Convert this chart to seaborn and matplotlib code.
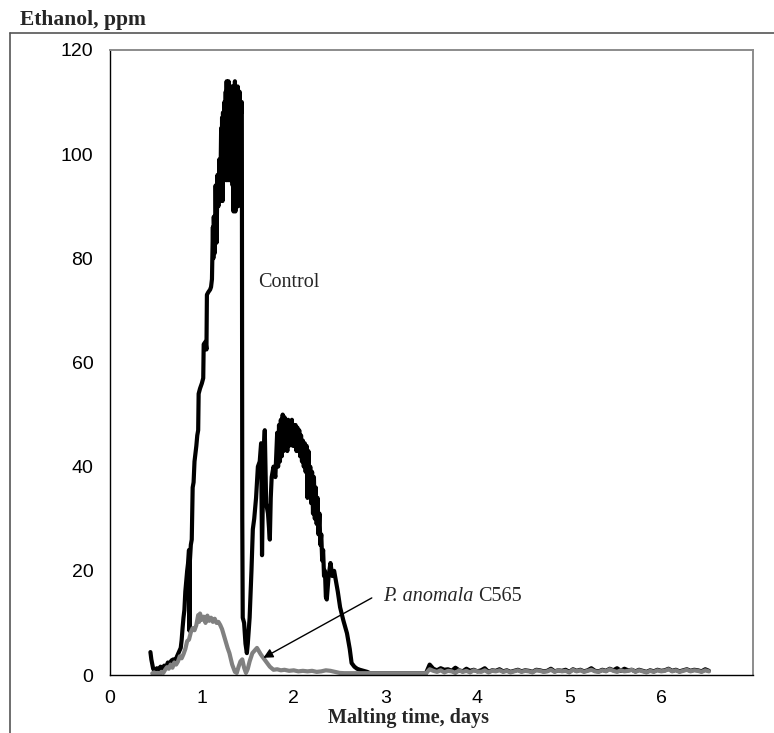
import numpy as np
import pandas as pd
import matplotlib
matplotlib.use("Agg")
import matplotlib.pyplot as plt
from matplotlib.lines import Line2D
import seaborn as sns

# Control malting: time (days) and ethanol (ppm) through germination
control_days = [
    0.44, 0.45, 0.47, 0.49, 0.51, 0.53, 0.55, 0.57, 0.59, 0.61, 0.63, 0.65, 0.67, 0.69,
    0.71, 0.73, 0.75, 0.77, 0.78, 0.79, 0.80, 0.81, 0.82, 0.83, 0.84, 0.85, 0.86, 0.865,
    0.87, 0.88, 0.89, 0.90, 0.91, 0.92, 0.93, 0.94, 0.95, 0.96, 0.965, 0.98, 1.00, 1.015,
    1.02, 1.04, 1.05, 1.055, 1.07, 1.09, 1.10, 1.11, 1.12, 1.125, 1.13, 1.14, 1.15, 1.16,
    1.17, 1.18, 1.19, 1.20, 1.21, 1.215, 1.22, 1.225, 1.23, 1.24, 1.245, 1.25, 1.26, 1.265,
    1.27, 1.275, 1.28, 1.285, 1.29, 1.295, 1.30, 1.305, 1.31, 1.315, 1.32, 1.325, 1.33,
    1.335, 1.34, 1.345, 1.35, 1.355, 1.36, 1.365, 1.37, 1.375, 1.38, 1.385, 1.39, 1.395,
    1.40, 1.405, 1.41, 1.415, 1.42, 1.43, 1.435, 1.44, 1.445, 1.46, 1.475, 1.49, 1.50,
    1.52, 1.54, 1.555, 1.57, 1.59, 1.61, 1.63, 1.645, 1.655, 1.67, 1.685, 1.70, 1.72,
    1.74, 1.75, 1.76, 1.78, 1.80, 1.82, 1.83, 1.84, 1.85, 1.86, 1.87, 1.88, 1.89, 1.90,
    1.91, 1.92, 1.93, 1.94, 1.95, 1.96, 1.97, 1.98, 1.99, 2.00, 2.01, 2.02, 2.03, 2.04,
    2.05, 2.06, 2.07, 2.08, 2.09, 2.10, 2.11, 2.12, 2.13, 2.14, 2.15, 2.16, 2.17, 2.18,
    2.19, 2.20, 2.21, 2.22, 2.23, 2.24, 2.25, 2.26, 2.27, 2.28, 2.29, 2.30, 2.31, 2.32,
    2.33, 2.34, 2.35, 2.36, 2.38, 2.40, 2.42, 2.44, 2.46, 2.48, 2.505, 2.54, 2.58, 2.61,
    2.63, 2.66, 2.69, 2.72, 2.76, 2.80, 2.83, 3.40,
]
control_ppm = [
    4.4, 3.0, 1.2, 0.7, 1.3, 1.0, 1.6, 1.2, 1.8, 1.5, 2.4, 2.2, 2.8, 3.0,
    2.7, 3.6, 4.4, 5.2, 6.7, 9.0, 11.0, 12.5, 16.0, 18.0, 20.0, 21.5, 24.0, 8.5,
    22.0, 25.0, 26.0, 36.0, 37.0, 41.0, 42.5, 44.0, 46.0, 47.0, 54.0, 55.0, 56.0, 57.0,
    63.5, 64.0, 62.5, 73.0, 73.5, 74.0, 74.5, 76.0, 86.0, 80.0, 88.0, 81.0, 94.0, 83.0,
    96.0, 90.0, 99.0, 91.0, 105.0, 92.0, 107.0, 91.0, 108.0, 95.0, 110.0, 96.0, 112.0, 95.0,
    114.0, 96.0, 113.0, 95.0, 114.0, 96.0, 113.0, 95.0, 112.0, 96.0, 113.0, 95.0, 111.0,
    94.0, 113.0, 89.0, 112.0, 90.0, 114.0, 89.0, 113.0, 90.0, 112.0, 91.0, 113.0, 90.0,
    111.0, 92.0, 112.0, 97.0, 110.0, 108.0, 110.0, 30.0, 11.0, 10.0, 6.0, 4.2, 6.0,
    11.0, 20.0, 28.0, 30.0, 34.0, 40.0, 41.0, 44.5, 23.0, 42.0, 47.0, 33.0, 31.0,
    26.0, 34.0, 38.0, 40.0, 38.0, 46.5, 40.0, 48.0, 41.0, 49.0, 42.0, 50.0, 43.0, 49.5,
    44.0, 49.0, 43.0, 49.0, 44.0, 48.5, 45.0, 49.0, 44.0, 48.0, 44.0, 48.0, 43.0, 47.5,
    43.0, 47.0, 42.0, 46.0, 41.0, 45.0, 40.0, 44.5, 39.0, 44.0, 34.0, 43.0, 36.0, 40.0,
    33.0, 39.0, 31.0, 38.0, 30.0, 36.0, 29.0, 34.0, 27.0, 31.0, 25.0, 27.0, 22.0, 24.0,
    19.0, 20.0, 15.0, 14.5, 19.0, 21.5, 19.0, 20.0, 18.0, 16.0, 13.0, 10.5, 8.0, 5.0,
    2.3, 1.6, 1.2, 1.0, 0.8, 0.6, 0.35, 0.35,
]

# Malting inoculated with P. anomala C565
anomala_days = [
    0.46, 0.48, 0.50, 0.52, 0.54, 0.56, 0.58, 0.60, 0.62, 0.64, 0.66, 0.68, 0.70, 0.72,
    0.74, 0.76, 0.78, 0.80, 0.82, 0.84, 0.86, 0.88, 0.90, 0.92, 0.94, 0.96, 0.97, 0.98,
    1.00, 1.02, 1.04, 1.06, 1.08, 1.10, 1.12, 1.14, 1.16, 1.18, 1.20, 1.22, 1.24, 1.26,
    1.28, 1.30, 1.33, 1.36, 1.38, 1.40, 1.42, 1.44, 1.46, 1.48, 1.50, 1.52, 1.55, 1.57,
    1.60, 1.62, 1.64, 1.66, 1.69, 1.71, 1.74, 1.78, 1.82, 1.86, 1.90, 1.95, 2.00, 2.05,
    2.10, 2.15, 2.20, 2.25, 2.30, 2.35, 2.40, 2.45, 2.50, 2.55, 3.40,
]
anomala_ppm = [
    0.3, 0.5, 0.2, 0.4, 0.2, 0.6, 0.4, 1.0, 1.5, 1.2, 2.0, 1.4, 2.4, 2.0,
    2.6, 3.6, 3.2, 4.0, 5.0, 6.5, 6.8, 8.2, 9.0, 8.6, 9.6, 11.5, 10.2, 11.8,
    10.6, 11.2, 10.0, 11.4, 10.4, 11.0, 10.2, 10.8, 10.0, 10.2, 9.6, 8.8, 7.6, 6.4,
    5.2, 4.2, 2.0, 0.6, 0.4, 1.6, 2.6, 3.0, 1.4, 0.4, 1.2, 2.6, 4.2, 4.6,
    5.2, 4.6, 4.0, 3.5, 2.8, 2.3, 1.6, 1.0, 1.1, 0.9, 1.0, 0.8, 0.9, 0.7,
    0.8, 0.7, 0.8, 0.6, 0.7, 0.9, 0.8, 0.6, 0.4, 0.35, 0.35,
]

# Late-stage readings (days 3.44 - 6.52), logged at a fixed interval
late_start, late_end = 3.44, 6.52
control_late_ppm = [
    0.35, 2.0, 1.2, 0.9, 1.3, 1.0, 1.1, 0.8, 1.4, 0.9, 0.7, 1.2, 0.8, 1.0, 0.7, 0.9,
    1.3, 0.6, 0.9, 0.8, 1.1, 0.7, 0.9, 0.6, 0.8, 1.0, 0.7, 0.9, 0.8, 0.6, 1.0, 0.9,
    0.7, 0.8, 1.2, 0.7, 0.9, 0.8, 1.0, 0.6, 1.1, 0.8, 1.0, 0.7, 0.9, 1.3, 0.8, 0.7,
    1.0, 0.8, 1.2, 0.9, 1.3, 0.8, 1.2, 0.9, 1.0, 0.7, 1.0, 0.8, 0.6, 0.9, 0.7, 1.0,
    0.8, 0.9, 1.2, 0.8, 1.0, 0.7, 0.9, 1.1, 0.8, 1.0, 0.9, 0.7, 1.1, 0.8,
]
anomala_late_ppm = [
    0.35, 1.1, 0.8, 0.6, 0.9, 0.5, 0.8, 0.7, 0.4, 0.9, 0.6, 0.8, 0.5, 0.9, 0.7, 0.6,
    0.9, 0.5, 0.8, 0.7, 0.9, 0.6, 0.8, 0.5, 0.7, 0.9, 0.6, 0.8, 0.7, 0.5, 0.9, 0.8,
    0.6, 0.7, 1.0, 0.6, 0.9, 0.7, 0.8, 0.5, 1.0, 0.7, 0.9, 0.6, 0.8, 1.0, 0.7, 0.6,
    0.9, 0.7, 1.1, 0.8, 0.6, 0.9, 0.7, 0.8, 1.0, 0.6, 0.9, 0.7, 0.5, 0.8, 0.6, 0.9,
    0.7, 0.8, 1.1, 0.7, 0.9, 0.6, 0.8, 1.0, 0.7, 0.9, 0.8, 0.6, 0.9, 0.7,
]

series_names = ["Control", "P. anomala C565"]
series_colors = {"Control": "black", "P. anomala C565": "#808080"}

x_ticks = [0, 1, 2, 3, 4, 5, 6, 7]
x_tick_labels = ["0", "1", "2", "3", "4", "5", "6", ""]
y_ticks = [0, 20, 40, 60, 80, 100, 120]

# ---- assemble long-form table ----
ctrl_late_days = np.linspace(late_start, late_end, len(control_late_ppm))
anom_late_days = np.linspace(late_start, late_end, len(anomala_late_ppm))

df = pd.concat([
    pd.DataFrame({"days": np.concatenate([control_days, ctrl_late_days]),
                  "ppm": np.concatenate([control_ppm, control_late_ppm]),
                  "series": series_names[0]}),
    pd.DataFrame({"days": np.concatenate([anomala_days, anom_late_days]),
                  "ppm": np.concatenate([anomala_ppm, anomala_late_ppm]),
                  "series": series_names[1]}),
], ignore_index=True)

sns.set_style("white")
serif = ["Liberation Serif", "DejaVu Serif"]
sans = ["Liberation Sans", "DejaVu Sans"]
plt.rcParams["font.family"] = sans

W, H = 774, 733
fig = plt.figure(figsize=(W / 100, H / 100), dpi=100)
ax = fig.add_axes([110 / W, 1 - 675 / H, (753 - 110) / W, (675 - 50) / H])

sns.lineplot(data=df, x="days", y="ppm", hue="series", hue_order=series_names,
             palette=series_colors, estimator=None, sort=False, legend=False,
             linewidth=3.0, solid_joinstyle="round", solid_capstyle="round", ax=ax)

ax.set_xlim(0, 7)
ax.set_ylim(0, 120)
ax.set_xticks(x_ticks)
ax.set_xticklabels(x_tick_labels)
ax.set_yticks(y_ticks)
ax.set_xlabel("")
ax.set_ylabel("")
ax.tick_params(axis="y", direction="out", length=5, width=1, pad=7,
               labelsize=14, colors="black")
ax.tick_params(axis="x", direction="out", length=4, width=1, pad=7,
               labelsize=14, colors="black")
for lab in ax.get_xticklabels() + ax.get_yticklabels():
    lab.set_family(sans)

for side in ("left", "bottom"):
    ax.spines[side].set_color("black")
    ax.spines[side].set_linewidth(1.0)
for side in ("top", "right"):
    ax.spines[side].set_visible(True)
    ax.spines[side].set_color("#8c8c8c")
    ax.spines[side].set_linewidth(1.4)

# series labels
ax.text(1.61, 75.3, "Control", family=serif, fontsize=14.5, va="center", ha="left")
ax.annotate("", xy=(1.67, 3.3), xytext=(2.85, 14.8),
            arrowprops=dict(arrowstyle="-|>", color="black", lw=1.0,
                            mutation_scale=14, shrinkA=0, shrinkB=0))
t_it = ax.text(2.97, 15.0, "P. anomala", family=serif, style="italic",
               fontsize=14.5, va="center", ha="left")
fig.canvas.draw()
bb = t_it.get_window_extent()
x_after = ax.transData.inverted().transform((bb.x1 + 5, bb.y0))[0]
ax.text(x_after, 15.0, "C565", family=serif, fontsize=14.5, va="center", ha="left")

# axis titles
fig.text(20 / W, 1 - 25 / H, "Ethanol, ppm", family=serif, fontweight="bold",
         fontsize=15.5, va="baseline", ha="left")
fig.text(408 / W, 1 - 723 / H, "Malting time, days", family=serif, fontweight="bold",
         fontsize=14.5, va="baseline", ha="center")

# outer frame lines
fig.add_artist(Line2D([10 / W, 1.0], [1 - 33 / H, 1 - 33 / H], color="#555555", lw=1.2))
fig.add_artist(Line2D([10 / W, 10 / W], [0.0, 1 - 33 / H], color="#555555", lw=1.2))

fig.savefig("out.png", dpi=100)
